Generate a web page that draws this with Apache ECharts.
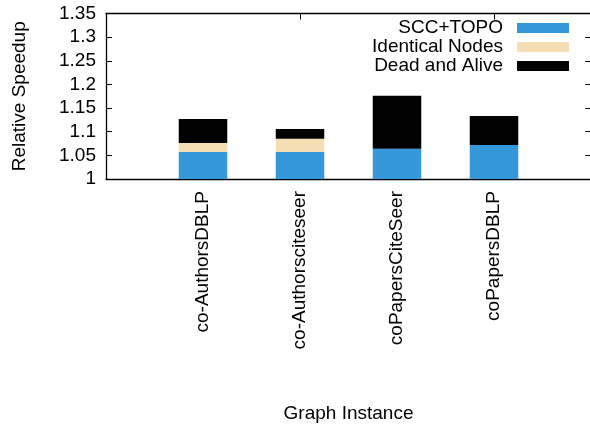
<!DOCTYPE html>
<html>
<head>
<meta charset="utf-8">
<script src="https://cdn.jsdelivr.net/npm/echarts@6/dist/echarts.min.js"></script>
<style>
  html, body { margin: 0; padding: 0; background: #fff; }
  #chart { width: 590px; height: 426px; }
</style>
</head>
<body>
<div id="chart"></div>
<script>
// graph instances (padded with blank slots so the axis runs from -1 to 4)
var categories = ['co-AuthorsDBLP', 'co-Authorsciteseer', 'coPapersCiteSeer', 'coPapersDBLP'];

// stacked speedup parts
var sccTopo = [1.057, 1.057, 1.064, 1.072];
var identicalNodes = [0.019, 0.028, 0, 0];
var deadAlive = [0.051, 0.021, 0.112, 0.061];

var yTicks = { min: 1, max: 1.35, step: 0.05 };

var FONT = 'Liberation Sans';

function pad(arr) {
    return [null].concat(arr, [null]);
}

var xCats = pad(categories).map(function (c) { return c || ''; });

var seriesDefs = [
    { name: 'SCC+TOPO', color: '#3498db', data: sccTopo },
    { name: 'Identical Nodes', color: '#f5deb3', data: identicalNodes },
    { name: 'Dead and Alive', color: '#000000', data: deadAlive }
];

var legendTops = [18, 37, 56];

var option = {
    animation: false,
    textStyle: { fontFamily: FONT },
    grid: {
        left: 106,
        right: -1,
        top: 13.5,
        bottom: 247,
        outerBoundsMode: 'none',
        containLabel: false
    },
    legend: seriesDefs.map(function (s, i) {
        return {
            data: [s.name],
            right: 21,
            top: legendTops[i],
            orient: 'vertical',
            align: 'right',
            padding: 0,
            itemWidth: 52,
            itemHeight: 10,
            icon: 'rect',
            selectedMode: false,
            textStyle: {
                fontFamily: FONT,
                fontSize: 19,
                lineHeight: 20,
                color: '#000',
                padding: [0, 9, 0, 0]
            }
        };
    }),
    xAxis: [
        {
            type: 'category',
            position: 'bottom',
            data: xCats,
            boundaryGap: false,
            name: 'Graph Instance',
            nameLocation: 'middle',
            nameGap: 225,
            nameTextStyle: { fontFamily: FONT, fontSize: 19, color: '#000' },
            axisLine: { lineStyle: { color: '#000', width: 1.3 } },
            axisTick: { inside: true, length: 6, lineStyle: { color: '#000' } },
            axisLabel: {
                rotate: 90,
                interval: 0,
                margin: 12,
                fontFamily: FONT,
                fontSize: 19,
                color: '#000'
            },
            splitLine: { show: false }
        },
        {
            type: 'category',
            position: 'top',
            data: xCats,
            boundaryGap: false,
            axisLine: { lineStyle: { color: '#000', width: 1.3 } },
            axisTick: { inside: true, length: 6, lineStyle: { color: '#000' } },
            axisLabel: { show: false },
            splitLine: { show: false }
        }
    ],
    yAxis: [
        {
            type: 'value',
            position: 'left',
            min: yTicks.min,
            max: yTicks.max,
            interval: yTicks.step,
            name: 'Relative Speedup',
            nameLocation: 'middle',
            nameRotate: 90,
            nameGap: 77,
            nameTextStyle: { fontFamily: FONT, fontSize: 19, color: '#000' },
            axisLine: { show: true, lineStyle: { color: '#000', width: 1.3 } },
            axisTick: { show: true, inside: true, length: 6, lineStyle: { color: '#000' } },
            axisLabel: { margin: 10, fontFamily: FONT, fontSize: 19, color: '#000' },
            splitLine: { show: false }
        },
        {
            type: 'value',
            position: 'right',
            min: yTicks.min,
            max: yTicks.max,
            interval: yTicks.step,
            axisLine: { show: true, lineStyle: { color: '#000', width: 1.3 } },
            axisTick: { show: true, inside: true, length: 6, lineStyle: { color: '#000' } },
            axisLabel: { show: false },
            splitLine: { show: false }
        }
    ],
    series: seriesDefs.map(function (s) {
        return {
            name: s.name,
            type: 'bar',
            stack: 'speedup',
            xAxisIndex: 0,
            yAxisIndex: 0,
            barWidth: '50%',
            clip: true,
            itemStyle: { color: s.color },
            data: pad(s.data)
        };
    })
};

var myChart = echarts.init(document.getElementById('chart'), null, { renderer: 'canvas' });
myChart.setOption(option);
</script>
</body>
</html>
